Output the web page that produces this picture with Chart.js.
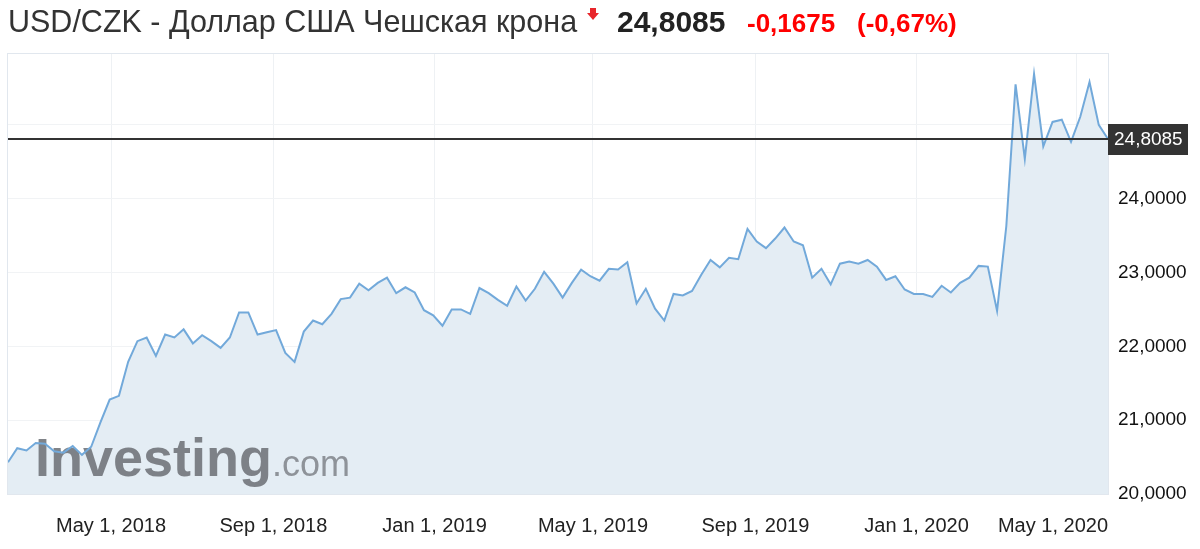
<!DOCTYPE html>
<html lang="ru">
<head>
    <meta charset="UTF-8">
    <title>USD/CZK - Доллар США Чешская крона</title>
    <style>
        body {
            margin: 0;
            background: #fff;
            font-family: "Liberation Sans", Arial, sans-serif;
        }
        .wrap {
            position: relative;
            width: 1200px;
            height: 549px;
            overflow: hidden;
        }
        .title {
            position: absolute;
            left: 8px;
            top: 4px;
            display: flex;
            align-items: baseline;
            white-space: nowrap;
            z-index: 2;
        }
        .name { width: 584px; font-size: 30.5px; color: #333; }
        .arrow { width: 25px; position: relative; }
        .arrow i {
            position: absolute;
            left: -5px;
            top: -19px;
            width: 0;
            height: 0;
            border-left: 6px solid transparent;
            border-right: 6px solid transparent;
            border-top: 7px solid #e8262b;
        }
        .arrow i::before {
            content: "";
            position: absolute;
            left: -3px;
            top: -12px;
            width: 6px;
            height: 5px;
            background: #e8262b;
        }
        .price { width: 130px; font-size: 30px; font-weight: bold; color: #222; }
        .change { width: 110px; font-size: 26px; font-weight: bold; color: #f00; }
        .pct { font-size: 26px; font-weight: bold; color: #f00; }
        canvas { position: absolute; left: 0; top: 0; }
    </style>
    <script src="https://cdn.jsdelivr.net/npm/chart.js"></script>
</head>
<body>
<div class="wrap">
    <div class="title">
        <span class="name">USD/CZK - Доллар США Чешская крона</span>
        <span class="arrow"><i></i></span>
        <span class="price">24,8085</span>
        <span class="change">-0,1675</span>
        <span class="pct">(-0,67%)</span>
    </div>
    <canvas id="fxChart" width="1200" height="549"></canvas>
</div>
<script>
    // weekly closes
    const values = [
        20.43, 20.62, 20.59, 20.69, 20.68, 20.58, 20.56, 20.65, 20.53, 20.64,
        20.97, 21.28, 21.33, 21.79, 22.07, 22.12, 21.87, 22.16, 22.12, 22.23,
        22.04, 22.15, 22.07, 21.98, 22.12, 22.46, 22.46, 22.16, 22.19, 22.22,
        21.91, 21.79, 22.20, 22.35, 22.30, 22.44, 22.64, 22.66, 22.85, 22.76,
        22.86, 22.93, 22.72, 22.80, 22.73, 22.49, 22.42, 22.28, 22.50, 22.50,
        22.44, 22.79, 22.72, 22.63, 22.55, 22.81, 22.62, 22.78, 23.01, 22.85,
        22.66, 22.86, 23.04, 22.95, 22.89, 23.05, 23.04, 23.14, 22.58, 22.78,
        22.51, 22.35, 22.71, 22.69, 22.75, 22.97, 23.17, 23.07, 23.20, 23.18,
        23.59, 23.42, 23.33, 23.46, 23.61, 23.42, 23.37, 22.93, 23.05, 22.84,
        23.12, 23.15, 23.12, 23.17, 23.08, 22.90, 22.95, 22.77, 22.71, 22.71,
        22.67, 22.82, 22.73, 22.86, 22.93, 23.09, 23.08, 22.48, 23.63, 25.55,
        24.54, 25.69, 24.71, 25.04, 25.07, 24.77, 25.11, 25.58, 25.00, 24.8085
    ];

    const DAY = 86400000;
    const startDate = Date.UTC(2018, 1, 12); // first weekly point
    const weekDates = values.map((v, i) => startDate + i * 7 * DAY);

    const tickDates = [
        Date.UTC(2018, 4, 1), Date.UTC(2018, 8, 1), Date.UTC(2019, 0, 1),
        Date.UTC(2019, 4, 1), Date.UTC(2019, 8, 1), Date.UTC(2020, 0, 1),
        Date.UTC(2020, 4, 1)
    ];
    const tickLabels = [
        "May 1, 2018", "Sep 1, 2018", "Jan 1, 2019", "May 1, 2019",
        "Sep 1, 2019", "Jan 1, 2020", "May 1, 2020"
    ];
    const yTicks = [20, 21, 22, 23, 24, 25];
    const lastPrice = 24.8085;
    const lastPriceText = "24,8085";

    const fmt = v => v.toFixed(4).replace(".", ",");

    // watermark goes between the area fill and the line
    const watermark = {
        id: "watermark",
        beforeDatasetDraw(chart) {
            const ctx = chart.ctx;
            ctx.save();
            ctx.textBaseline = "alphabetic";
            ctx.font = "bold 54px 'Liberation Sans', Arial, sans-serif";
            ctx.fillStyle = "rgba(110, 114, 120, 0.88)";
            ctx.fillText("Investing", 35, 476);
            const w = ctx.measureText("Investing").width;
            ctx.font = "36px 'Liberation Sans', Arial, sans-serif";
            ctx.fillStyle = "rgba(120, 124, 130, 0.8)";
            ctx.fillText(".com", 35 + w, 476);
            ctx.restore();
        }
    };

    // frame, date labels and the last-price marker
    const extras = {
        id: "extras",
        afterDraw(chart) {
            const { ctx, chartArea } = chart;
            const xs = chart.scales.x;
            const ys = chart.scales.y;
            ctx.save();

            ctx.strokeStyle = "#e1e7ee";
            ctx.lineWidth = 1;
            ctx.strokeRect(chartArea.left - 0.5, chartArea.top - 0.5,
                chartArea.right - chartArea.left + 1, chartArea.bottom - chartArea.top + 1);

            ctx.font = "20px 'Liberation Sans', Arial, sans-serif";
            ctx.fillStyle = "#222";
            ctx.textAlign = "center";
            ctx.textBaseline = "middle";
            tickDates.forEach((d, i) => {
                const w = ctx.measureText(tickLabels[i]).width;
                let cx = xs.getPixelForValue(d);
                cx = Math.min(cx, chartArea.right - w / 2);
                ctx.fillText(tickLabels[i], cx, 526);
            });

            const py = Math.round(ys.getPixelForValue(lastPrice));
            ctx.strokeStyle = "#333";
            ctx.lineWidth = 2;
            ctx.beginPath();
            ctx.moveTo(chartArea.left, py);
            ctx.lineTo(chartArea.right, py);
            ctx.stroke();

            ctx.fillStyle = "#333";
            ctx.fillRect(chartArea.right, py - 15, 80, 31);
            ctx.fillStyle = "#fff";
            ctx.font = "19px 'Liberation Sans', Arial, sans-serif";
            ctx.textAlign = "left";
            ctx.fillText(lastPriceText, chartArea.right + 6, py + 1);
            ctx.restore();
        }
    };

    const ctx = document.getElementById("fxChart").getContext("2d");
    const fxChart = new Chart(ctx, {
        type: "line",
        data: {
            datasets: [{
                data: values.map((v, i) => ({ x: weekDates[i], y: v })),
                borderColor: "#72a9da",
                backgroundColor: "#e4edf4",
                borderWidth: 2,
                pointRadius: 0,
                fill: "start",
                tension: 0
            }]
        },
        options: {
            responsive: false,
            animation: false,
            devicePixelRatio: 1,
            layout: { padding: { top: 54, left: 8, right: 0, bottom: 0 } },
            plugins: {
                legend: { display: false },
                tooltip: { enabled: false }
            },
            scales: {
                x: {
                    type: "linear",
                    min: weekDates[0],
                    max: weekDates[weekDates.length - 1],
                    afterBuildTicks: scale => {
                        scale.ticks = tickDates.map(d => ({ value: d }));
                    },
                    afterFit: scale => { scale.height = 55; },
                    ticks: { display: false },
                    grid: { color: "#eef1f4", drawTicks: false },
                    border: { display: false }
                },
                y: {
                    position: "right",
                    min: 20,
                    max: 25.96,
                    afterBuildTicks: scale => {
                        scale.ticks = yTicks.map(v => ({ value: v }));
                    },
                    afterFit: scale => { scale.width = 92; },
                    ticks: {
                        callback: v => (v === 25 ? "" : fmt(v)),
                        color: "#111",
                        font: { family: "'Liberation Sans', Arial, sans-serif", size: 19 },
                        padding: 10
                    },
                    grid: { color: "#f1f3f5", drawTicks: false },
                    border: { display: false }
                }
            }
        },
        plugins: [watermark, extras]
    });
</script>
</body>
</html>
